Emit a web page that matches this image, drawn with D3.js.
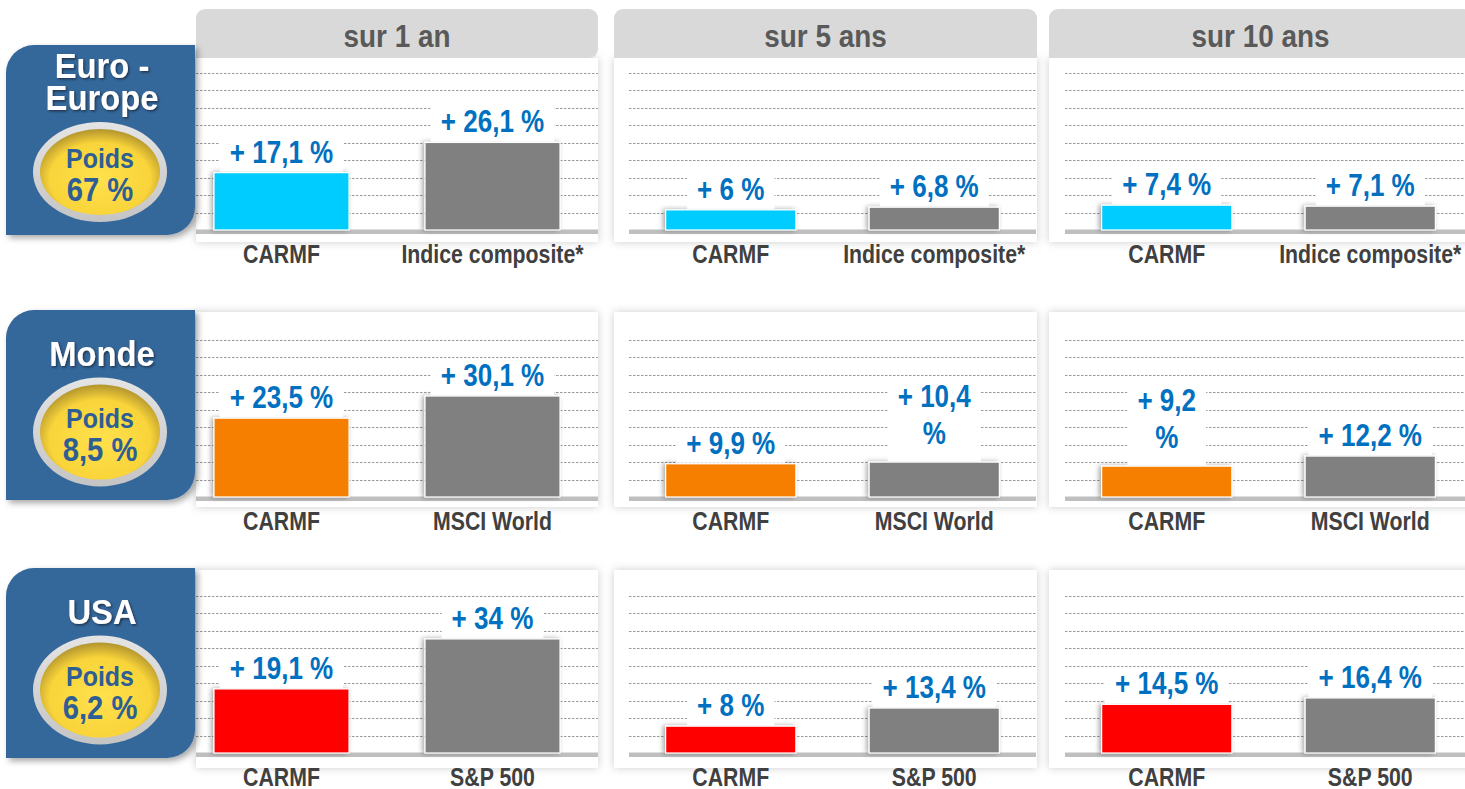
<!DOCTYPE html>
<html><head><meta charset="utf-8">
<script src="https://cdn.jsdelivr.net/npm/d3@7"></script>
<style>html,body{margin:0;background:#fff;overflow:hidden} svg{display:block}</style>
</head><body><div id="chart"></div>
<script>
// Performances CARMF vs indices, par zone et par durée
const periods = ["sur 1 an","sur 5 ans","sur 10 ans"];
const regions = [["Euro -","Europe"],["Monde"],["USA"]];
const weights = ["67 %","8,5 %","6,2 %"];
const benchmarks = ["Indice composite*","MSCI World","S&P 500"];
const carmfColors = ["#00ccff","#f77f00","#ff0000"];
const benchColor = "#808080";
const carmfValues = [[17.1,6,7.4],[23.5,9.9,9.2],[19.1,8,14.5]];
const benchValues = [[26.1,6.8,7.1],[30.1,10.4,12.2],[34,13.4,16.4]];
const carmfLabels = [["+ 17,1 %","+ 6 %","+ 7,4 %"],["+ 23,5 %","+ 9,9 %","+ 9,2\n%"],["+ 19,1 %","+ 8 %","+ 14,5 %"]];
const benchLabels = [["+ 26,1 %","+ 6,8 %","+ 7,1 %"],["+ 30,1 %","+ 10,4\n%","+ 12,2 %"],["+ 34 %","+ 13,4 %","+ 16,4 %"]];

// mise en page
const W=1465, H=789;
const colX = [[176,598],[629,1036],[1065,1472]];
const gridX0 = [196,629,1065];
const cardX = [[196,598],[614,1037],[1049,1472]];
const rowBase = [230,497,753];
const cardY = [[58,242],[312,507],[570,768]];
const badgeY = [45,310,568];
const plotH = 157, yMax = 46.8, gridStep = 5.2;
const F = "'Liberation Sans', Arial, sans-serif";

const svg = d3.select("#chart").append("svg").attr("width",W).attr("height",H);
const defs = svg.append("defs");
const shadow = (id,dx,dy,sd,op,col="#000") => defs.append("filter").attr("id",id)
  .attr("x","-20%").attr("y","-20%").attr("width","140%").attr("height","140%")
  .append("feDropShadow").attr("dx",dx).attr("dy",dy).attr("stdDeviation",sd)
  .attr("flood-color",col).attr("flood-opacity",op);
shadow("cardSh",0,0,4,0.2);
shadow("barSh",-2,0,2.5,0.35);
shadow("badgeSh",3,3,3,0.35);
shadow("titleSh",1.5,1.5,1,0.8,"#142840");
const rg = defs.append("radialGradient").attr("id","yel").attr("cx","50%").attr("cy","58%").attr("r","60%");
rg.append("stop").attr("offset","0%").attr("stop-color","#ffe14d");
rg.append("stop").attr("offset","70%").attr("stop-color","#f9d43a");
rg.append("stop").attr("offset","100%").attr("stop-color","#a88c2c");
const lg = defs.append("linearGradient").attr("id","ring").attr("x1","0").attr("y1","0").attr("x2","0").attr("y2","1");
lg.append("stop").attr("offset","0%").attr("stop-color","#e4e4e4");
lg.append("stop").attr("offset","100%").attr("stop-color","#c4c4c4");

function txt(g,x,y,s,size,sx,fill){
  return g.append("text").attr("transform",`translate(${x},${y}) scale(${sx},1)`)
    .attr("text-anchor","middle").attr("font-family",F).attr("font-weight","bold")
    .attr("font-size",size).attr("fill",fill).text(s);
}

// cartes blanches
periods.forEach((p,c)=>{
  rowBase.forEach((b,r)=>{
    const [x0,x1]=cardX[c], [y0,y1]=cardY[r];
    svg.append("rect").attr("x",x0).attr("y",y0).attr("width",x1-x0).attr("height",y1-y0)
      .attr("fill","#fff").attr("filter","url(#cardSh)");
  });
  // en-têtes
  const [x0,x1]=cardX[c], y0=9, y1=58, rr=9;
  const path = c===0
    ? `M${x0},${y1}V${y0+rr}A${rr},${rr} 0 0 1 ${x0+rr},${y0}H${x1-rr}A${rr},${rr} 0 0 1 ${x1},${y0+rr}V${y1-rr}A${rr},${rr} 0 0 1 ${x1-rr},${y1}Z`
    : `M${x0},${y1}V${y0+rr}A${rr},${rr} 0 0 1 ${x0+rr},${y0}H${x1-rr}A${rr},${rr} 0 0 1 ${x1},${y0+rr}V${y1}Z`;
  svg.append("path").attr("d",path).attr("fill","#d9d9d9");
  txt(svg,(x0+x1)/2,47,p,31,0.9,"#595959");
});

// panneaux
rowBase.forEach((base,r)=>{
  const y = d3.scaleLinear().domain([0,yMax]).range([base,base-plotH]);
  periods.forEach((p,c)=>{
    const x = d3.scaleBand().domain([0,1]).range(colX[c]).paddingInner(0.36).paddingOuter(0.18);
    const g = svg.append("g");
    const x1 = colX[c][1];
    g.selectAll("line.grid").data(d3.range(1,10).map(i=>i*gridStep)).join("line")
      .attr("x1",gridX0[c]).attr("x2",x1).attr("y1",d=>Math.round(y(d))+0.5).attr("y2",d=>Math.round(y(d))+0.5)
      .attr("stroke","#9a9a9a").attr("stroke-width",1).attr("stroke-dasharray","2.5,1.5");
    g.append("rect").attr("x",gridX0[c]).attr("y",base-0.5).attr("width",x1-gridX0[c]).attr("height",4.5).attr("fill","#bfbfbf");

    const bars = [
      {v:carmfValues[r][c], lab:carmfLabels[r][c], col:carmfColors[r], name:"CARMF"},
      {v:benchValues[r][c], lab:benchLabels[r][c], col:benchColor, name:benchmarks[r]}
    ];
    bars.forEach((d,i)=>{
      const bx = x(i), bw = x.bandwidth(), cx = bx+bw/2, top = y(d.v);
      g.append("rect").attr("x",bx).attr("y",top).attr("width",bw).attr("height",base-top)
        .attr("fill",d.col).attr("stroke","#fff").attr("stroke-width",1.2).attr("filter","url(#barSh)");
      const lines = d.lab.split("\n");
      const lastBase = top - (lines.length>1 ? 18 : 10);
      const box = g.append("rect").attr("fill","#fff");
      let wMax = 0;
      lines.forEach((s,k)=>{
        const t = txt(g,cx,lastBase-(lines.length-1-k)*37,s,31,0.84,"#0070c0");
        wMax = Math.max(wMax, t.node().getBBox().width*0.84);
      });
      const firstTop = lastBase-(lines.length-1)*37-26;
      box.attr("x",cx-wMax/2-10).attr("width",wMax+20).attr("y",firstTop).attr("height",top-1-firstTop);
      txt(g,cx,base+33,d.name,25.5,0.835,"#404040");
    });
  });

  // pastille de zone
  const t0 = badgeY[r], t1 = t0+190, bx0 = 6, bx1 = 195, rr = 28;
  const b = svg.append("g");
  b.append("path").attr("d",`M${bx0},${t1}V${t0+rr}A${rr},${rr} 0 0 1 ${bx0+rr},${t0}H${bx1}V${t1-rr}A${rr},${rr} 0 0 1 ${bx1-rr},${t1}Z`)
    .attr("fill","#36689a").attr("filter","url(#badgeSh)");
  const two = regions[r].length>1;
  regions[r].forEach((s,k)=>{
    txt(b,102,two ? t0+33+k*32 : t0+56,s,36,0.91,"#fff").attr("filter","url(#titleSh)");
  });
  const ecy = t0 + (two?127:122), ery = two?50:54.5;
  b.append("ellipse").attr("cx",100).attr("cy",ecy).attr("rx",67).attr("ry",ery).attr("fill","url(#ring)");
  b.append("ellipse").attr("cx",100).attr("cy",ecy).attr("rx",60).attr("ry",ery-7).attr("fill","url(#yel)");
  txt(b,100,ecy-4,"Poids",28,0.89,"#2e5e94");
  txt(b,100,ecy+29,weights[r],34,0.86,"#2e5e94");
});
</script>
</body></html>
